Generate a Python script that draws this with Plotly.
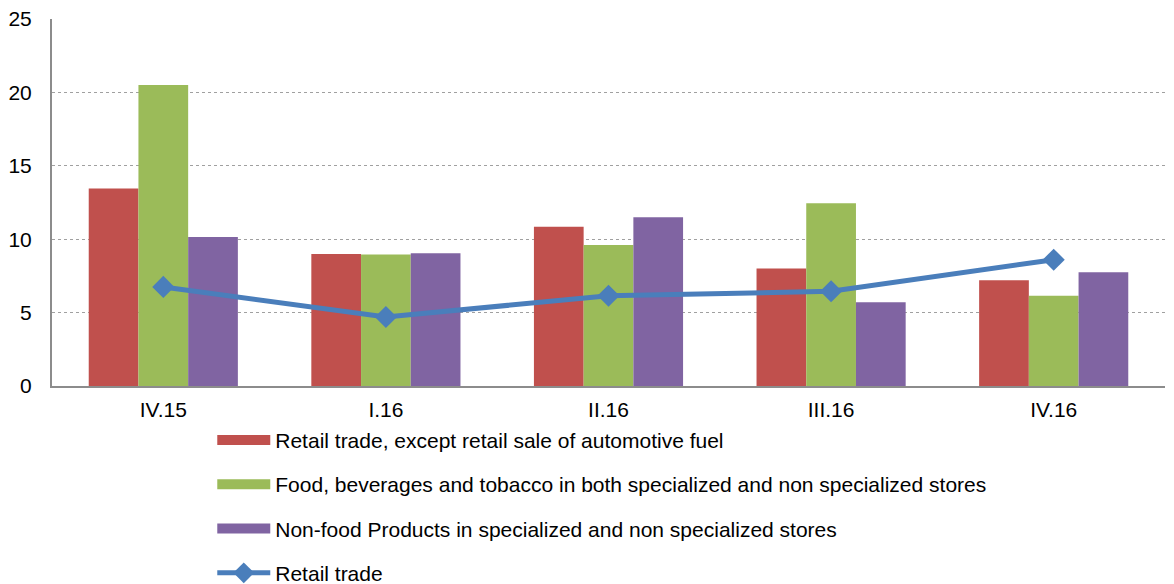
import plotly.graph_objects as go

categories = ["IV.15", "I.16", "II.16", "III.16", "IV.16"]
retail_ex_fuel = [13.45, 9.0, 10.85, 8.0, 7.2]
food_bev_tob = [20.5, 8.95, 9.6, 12.45, 6.15]
non_food = [10.15, 9.05, 11.5, 5.7, 7.75]
retail_trade = [6.75, 4.7, 6.15, 6.45, 8.6]

names = [
    "Retail trade, except retail sale of automotive fuel",
    "Food, beverages and tobacco in both specialized and non specialized stores",
    "Non-food Products in specialized and non specialized stores",
    "Retail trade",
]
colors = ["#c0504d", "#9bbb59", "#8064a2", "#4a7ebb"]

fig = go.Figure()
for i, (vals, nm, col) in enumerate(zip([retail_ex_fuel, food_bev_tob, non_food], names[:3], colors[:3])):
    fig.add_trace(go.Bar(x=categories, y=vals, name=nm, marker=dict(color=col, line=dict(width=0)),
                         showlegend=False))
    # legend swatch drawn as a thick line (rectangle-like key)
    fig.add_trace(go.Scatter(x=[None], y=[None], name=nm, mode="lines",
                             line=dict(color=col, width=12), legendgroup=f"g{i}",
                             hoverinfo="skip"))
fig.add_trace(go.Scatter(x=categories, y=retail_trade, name=names[3], mode="lines+markers",
                         line=dict(color=colors[3], width=5),
                         marker=dict(symbol="diamond", size=17, color=colors[3]),
                         legendgroup="g3"))

fig.update_layout(
    width=1166, height=576,
    margin=dict(l=44, r=9, t=11, b=198, autoexpand=False),
    paper_bgcolor="white", plot_bgcolor="white",
    font=dict(family="Liberation Sans, Arial", size=21, color="black"),
    barmode="group", bargap=0.33, bargroupgap=0,
    showlegend=True,
    legend=dict(x=0.144, y=-0.092, xanchor="left", yanchor="top", orientation="v",
                tracegroupgap=14, itemwidth=53, font=dict(size=21), bgcolor="rgba(0,0,0,0)"),
)
fig.update_xaxes(showline=True, linecolor="#8c8c8c", linewidth=2, ticks="", showgrid=False,
                 tickfont=dict(size=21), automargin=False, ticklabelstandoff=4)
fig.update_yaxes(range=[0, 25], dtick=5, showline=True, linecolor="#8c8c8c", linewidth=2,
                 showgrid=True, gridcolor="#a0a0a0", griddash="dot", gridwidth=1,
                 ticks="", zeroline=False, tickfont=dict(size=21), automargin=False,
                 ticklabelstandoff=14, ticklabeloverflow="allow")

fig.write_html("out.html")
